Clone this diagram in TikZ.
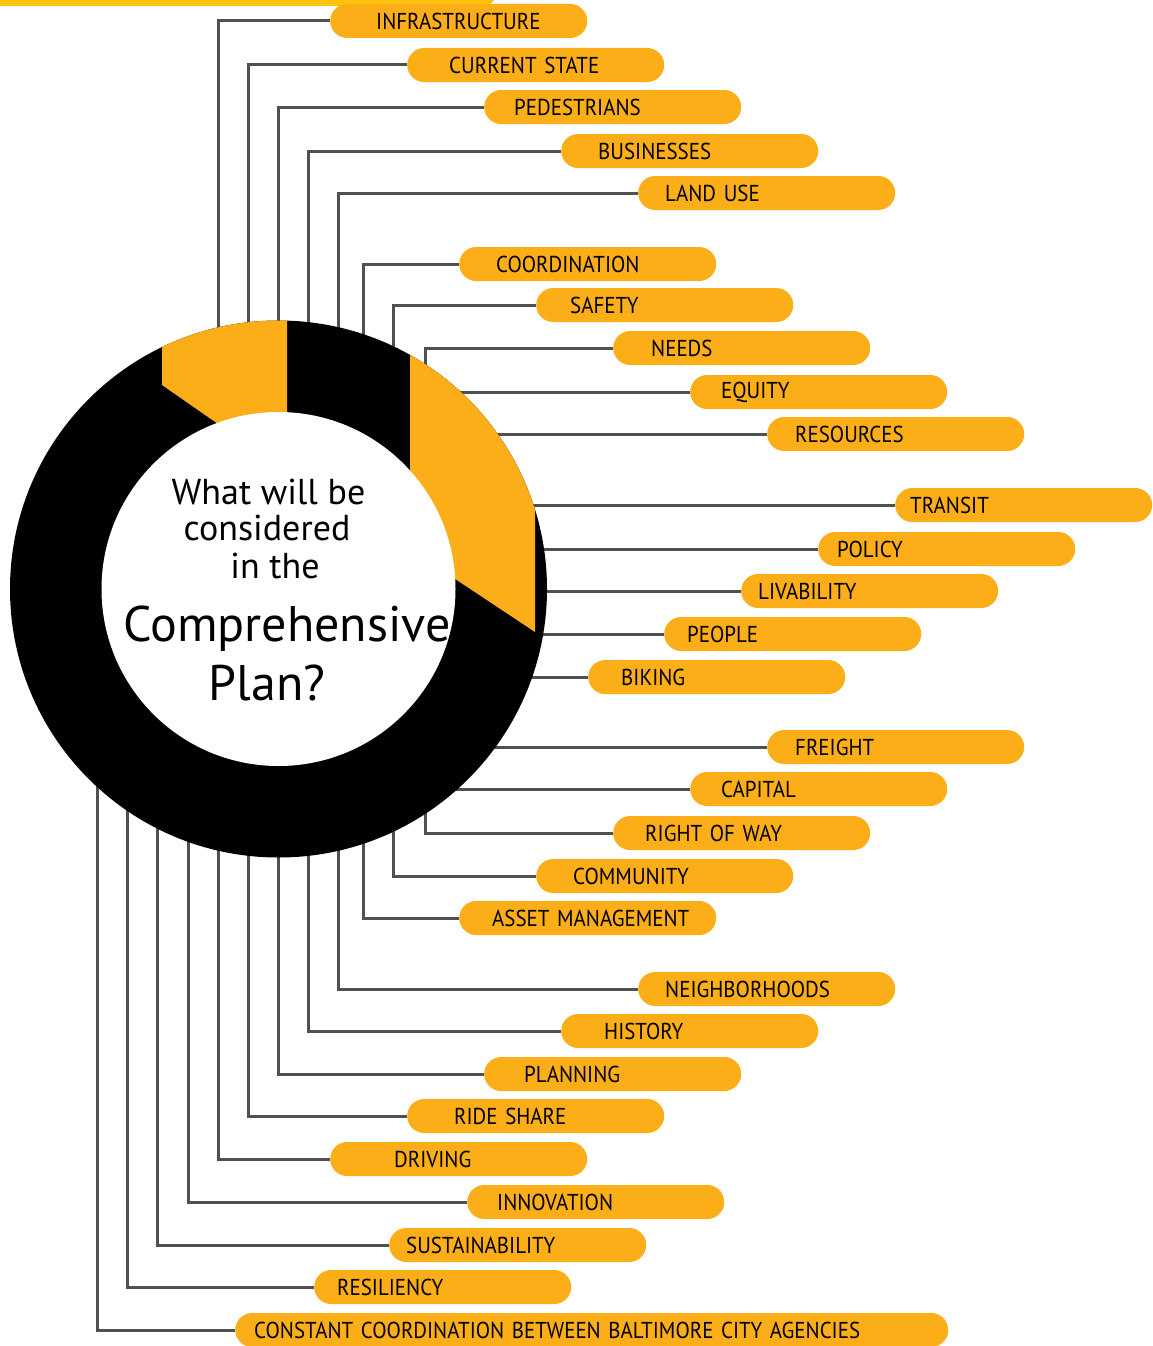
\documentclass[tikz,border=0pt]{standalone}
\usepackage{fontspec}
\setmainfont{PT Sans}
\newfontfamily\tagfont[FakeStretch=0.91, WordSpace=0.55]{PT Sans}
\usetikzlibrary{positioning}
\definecolor{plangold}{HTML}{FBAE17}
\definecolor{bargold}{HTML}{FFC20E}
\definecolor{linkgray}{HTML}{505050}

\begin{document}
\begin{tikzpicture}[x=1pt, y=-1pt,
    pill/.style={fill=plangold, rounded corners=17pt, minimum height=34pt, text width=257pt,
      inner xsep=0pt, inner ysep=0pt, align=left, anchor=west, text=black,
      font=\tagfont\fontsize{23}{24}\selectfont, execute at begin node={\hspace*{#1}}},
    link/.style={draw=linkgray, line width=3pt},
    ask/.style={anchor=base, text=black, font=\fontsize{36}{38}\selectfont},
    askbig/.style={anchor=base, text=black, font=\fontsize{50}{54}\selectfont}]
        \useasboundingbox (0,0) rectangle (1153,1346);
        \fill[bargold] (0,0) -- (494,0) -- (489,6) -- (0,6) -- cycle;
        \coordinate (hub) at (278.5,589);

        % upper fan
        \node[pill=46pt] (infra) at (330,21) {INFRASTRUCTURE};
        \node[pill=42pt] (state) at (407,65) {CURRENT STATE};
        \node[pill=30pt] (walk) at (484,107) {PEDESTRIANS};
        \node[pill=37pt] (biz) at (561,151) {BUSINESSES};
        \node[pill=27pt] (landuse) at (638,193) {LAND USE};
        \node[pill=37pt] (coord) at (459,264) {COORDINATION};
        \node[pill=34pt] (safety) at (536,305) {SAFETY};
        \node[pill=38pt] (needs) at (613,348) {NEEDS};
        \node[pill=31pt] (equity) at (690,392) {EQUITY};
        \node[pill=28pt] (res) at (767,434) {RESOURCES};

        % middle
        \node[pill=15pt] (transit) at (895,505) {TRANSIT};
        \node[pill=19pt] (policy) at (818,549) {POLICY};
        \node[pill=17pt] (livable) at (741,591) {LIVABILITY};
        \node[pill=23pt] (people) at (664,634) {PEOPLE};
        \node[pill=33pt] (bike) at (588,677) {BIKING};

        % lower fan
        \node[pill=28pt] (freight) at (767,747) {FREIGHT};
        \node[pill=31pt] (capital) at (690,789) {CAPITAL};
        \node[pill=32pt] (row) at (613,833) {RIGHT OF WAY};
        \node[pill=37pt] (comm) at (536,876) {COMMUNITY};
        \node[pill=33pt] (asset) at (459,918) {ASSET MANAGEMENT};
        \node[pill=27pt] (hoods) at (638,989) {NEIGHBORHOODS};
        \node[pill=43pt] (history) at (561,1031) {HISTORY};
        \node[pill=40pt] (plan) at (484,1074) {PLANNING};
        \node[pill=47pt] (ride) at (407,1116) {RIDE SHARE};
        \node[pill=64pt] (drive) at (330,1159) {DRIVING};
        \node[pill=30pt] (innov) at (467,1202) {INNOVATION};
        \node[pill=17pt] (sustain) at (389,1245) {SUSTAINABILITY};
        \node[pill=23pt] (resil) at (314,1287) {RESILIENCY};
        \node[pill=19pt, text width=713pt] (agency) at (235,1330) {CONSTANT COORDINATION BETWEEN BALTIMORE CITY AGENCIES};

        \draw[link] ([xshift=-60.5pt]hub) |- (infra);
        \draw[link] ([xshift=-30.5pt]hub) |- (state);
        \draw[link] (hub) |- (walk);
        \draw[link] ([xshift=29.5pt]hub) |- (biz);
        \draw[link] ([xshift=59.5pt]hub) |- (landuse);
        \draw[link] ([xshift=84.5pt]hub) |- (coord);
        \draw[link] ([xshift=114.5pt]hub) |- (safety);
        \draw[link] ([xshift=146.5pt]hub) |- (needs);
        \draw[link] (hub |- equity) -- (equity);
        \draw[link] (hub |- res) -- (res);
        \draw[link] (hub |- transit) -- (transit);
        \draw[link] (hub |- policy) -- (policy);
        \draw[link] (hub |- livable) -- (livable);
        \draw[link] (hub |- people) -- (people);
        \draw[link] (hub |- bike) -- (bike);
        \draw[link] (hub |- freight) -- (freight);
        \draw[link] (hub |- capital) -- (capital);
        \draw[link] ([xshift=146.5pt]hub) |- (row);
        \draw[link] ([xshift=114.5pt]hub) |- (comm);
        \draw[link] ([xshift=84.5pt]hub) |- (asset);
        \draw[link] ([xshift=59.5pt]hub) |- (hoods);
        \draw[link] ([xshift=29.5pt]hub) |- (history);
        \draw[link] (hub) |- (plan);
        \draw[link] ([xshift=-30.5pt]hub) |- (ride);
        \draw[link] ([xshift=-60.5pt]hub) |- (drive);
        \draw[link] ([xshift=-90.5pt]hub) |- (innov);
        \draw[link] ([xshift=-121.5pt]hub) |- (sustain);
        \draw[link] ([xshift=-151.5pt]hub) |- (resil);
        \draw[link] ([xshift=-181.5pt]hub) |- (agency);

        % the ring
        \fill[black] (hub) circle[radius=268.5];
        \begin{scope}
            \clip (hub) circle[radius=268.5];
            \fill[plangold] (162,250) -- (287,250) -- (287,472) -- (162,385) -- cycle;
            \fill[plangold] (410,250) -- (535,250) -- (535,632) -- (410,549) -- cycle;
        \end{scope}
        \fill[white] (hub) circle[radius=177];

        \node[ask] (q1) at (268.5,504) {What will be};
        \node[ask] (q2) at (267,540) {considered};
        \node[ask] (q3) at (275,578) {in the};
        \node[askbig] (q4) at (287,641) {Comprehensive};
        \node[askbig] (q5) at (267,700) {Plan?};
\end{tikzpicture}
\end{document}
